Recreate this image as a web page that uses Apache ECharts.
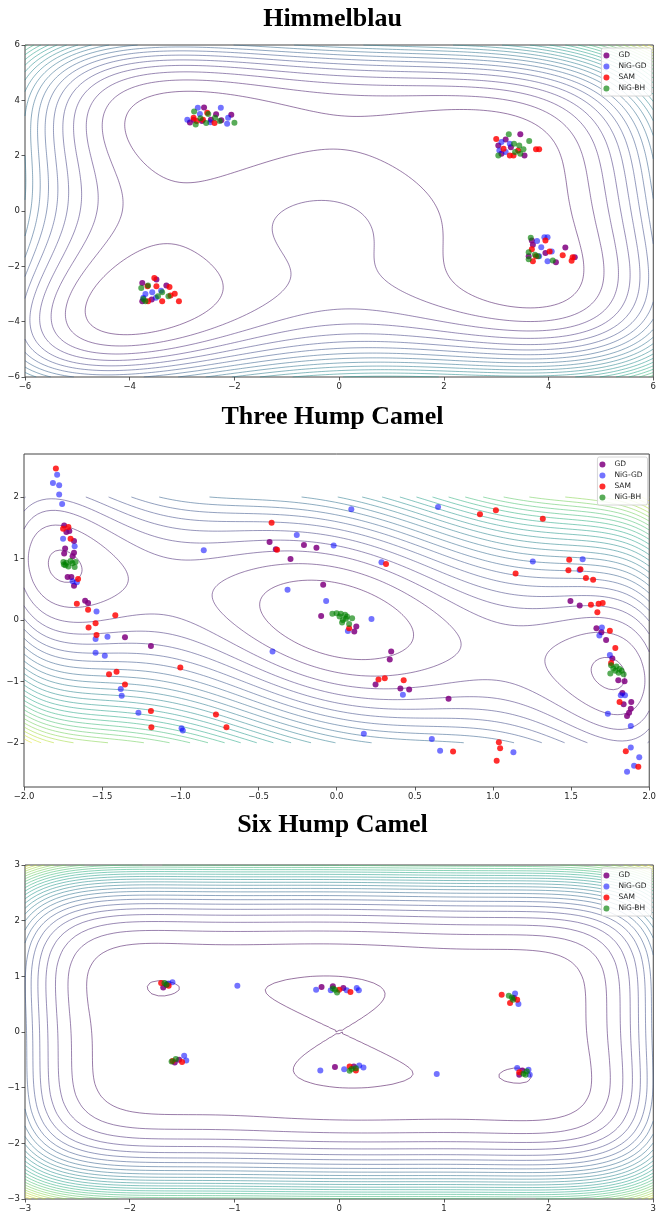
<!DOCTYPE html>
<html><head><meta charset="utf-8">
<script src="https://cdn.jsdelivr.net/npm/echarts@6/dist/echarts.min.js"></script>
<style>html,body{margin:0;padding:0;background:#fff}#c{width:659px;height:1214px}</style>
</head><body><div id="c"></div>
<script>
const seriesNames = ['GD', 'NiG-GD', 'SAM', 'NiG-BH'];
const titles = ['Himmelblau', 'Three Hump Camel', 'Six Hump Camel'];

// ---------- Himmelblau points ----------
const himGD = [[-2.58,3.74],[-2.06,3.48],[-2.35,3.50],[-2.78,3.30],[-2.62,3.25],[-2.45,3.30],[-2.25,3.28],[-2.85,3.20],
 [3.46,2.77],[3.18,2.58],[3.54,2.01],[3.04,2.37],[3.28,2.30],[3.10,2.07],
 [3.68,-1.07],[4.32,-1.32],[3.70,-1.22],[4.14,-1.85],[3.94,-1.52],[4.50,-1.67],[3.62,-1.64],
 [-3.76,-2.60],[-3.49,-2.48],[-3.30,-2.69],[-3.76,-3.26],[-3.58,-3.20]];
const himNG = [[-2.70,3.73],[-2.26,3.73],[-2.12,3.37],[-2.14,3.15],[-2.66,3.51],[-2.46,3.21],[-2.90,3.30],
 [3.10,2.49],[3.26,2.43],[3.06,2.19],[3.18,2.13],
 [3.92,-0.95],[3.98,-0.95],[3.78,-1.08],[3.86,-1.31],[4.06,-1.46],[3.82,-1.64],[3.98,-1.82],
 [-3.70,-3.00],[-3.57,-2.94],[-3.74,-3.14],[-3.50,-3.14],[-3.40,-2.88]];
const himSAM = [[-2.78,3.37],[-2.52,3.55],[-2.38,3.18],[-2.72,3.25],[-2.60,3.30],
 [3.00,2.60],[3.82,2.23],[3.76,2.23],[3.26,2.01],[3.14,2.25],[3.42,2.19],[3.33,2.01],
 [3.94,-1.07],[3.68,-1.38],[3.76,-1.64],[4.27,-1.60],[4.46,-1.67],[4.44,-1.80],[3.70,-1.82],[4.02,-1.46],
 [-3.53,-2.42],[-3.66,-2.72],[-3.49,-2.72],[-3.24,-2.75],[-3.14,-2.99],[-3.06,-3.26],[-3.38,-3.26],[-3.65,-3.26],[-3.22,-3.05]];
const himBH = [[-2.77,3.60],[-2.50,3.51],[-2.37,3.37],[-2.28,3.25],[-2.00,3.19],[-2.74,3.13],[-2.54,3.18],[-2.65,3.35],
 [3.24,2.77],[3.63,2.53],[3.52,2.23],[3.34,2.43],[3.44,2.37],[3.04,2.01],[3.36,2.13],[3.46,2.07],
 [3.66,-0.97],[3.62,-1.49],[3.62,-1.74],[3.80,-1.64],[4.08,-1.79],[3.74,-1.58],
 [-3.78,-2.78],[-3.65,-2.69],[-3.38,-2.94],[-3.26,-3.08],[-3.74,-3.18],[-3.70,-3.26],[-3.46,-3.08]];

// ---------- Three Hump Camel points ----------
const thGD = [[-1.743,1.538],[-1.729,1.43],[-1.71,1.446],[-1.68,1.282],[-1.737,1.162],[-1.743,1.08],[-1.68,1.091],[-1.689,1.037],
 [-1.721,0.698],[-1.697,0.698],[-1.68,0.556],[-1.609,0.311],[-1.59,0.273],[-1.354,-0.284],[-1.188,-0.426],
 [-0.429,1.266],[-0.389,1.151],[-0.209,1.217],[-0.129,1.173],[-0.295,0.993],
 [-0.086,0.573],[-0.099,0.065],[0.126,-0.109],[0.113,-0.191],
 [0.349,-0.513],[0.34,-0.644],[0.249,-1.053],[0.408,-1.118],[0.464,-1.135],[0.716,-1.282],
 [1.496,0.306],[1.555,0.235],
 [1.662,-0.136],[1.694,-0.202],[1.724,-0.327],[1.764,-0.627],[1.802,-0.982],[1.842,-0.998],[1.828,-1.189],
 [1.836,-1.375],[1.885,-1.337],[1.882,-1.446],[1.871,-1.511],[1.858,-1.566]];
const thNG = [[-1.788,2.362],[-1.815,2.226],[-1.775,2.193],[-1.775,2.04],[-1.756,1.888],[-1.75,1.32],[-1.676,1.2],
 [-1.689,0.627],[-1.662,0.611],[-1.536,0.136],[-1.542,-0.311],[-1.466,-0.273],[-1.542,-0.535],[-1.483,-0.584],
 [-1.381,-1.124],[-1.375,-1.233],[-1.268,-1.511],[-0.992,-1.762],[-0.984,-1.80],
 [-0.85,1.135],[-0.255,1.38],[-0.019,1.211],[0.094,1.80],[0.287,0.938],[0.649,1.838],[1.255,0.949],[1.574,0.987],[1.555,0.81],
 [-0.314,0.491],[-0.067,0.306],[0.223,0.016],[0.072,-0.18],
 [-0.41,-0.513],[0.424,-1.217],[0.174,-1.855],[0.609,-1.937],[0.662,-2.128],[1.131,-2.155],
 [1.697,-0.125],[1.681,-0.256],[1.748,-0.573],[1.818,-1.228],[1.845,-1.228],[1.735,-1.528],[1.882,-1.729],
 [1.882,-2.079],[1.936,-2.237],[1.903,-2.373],[1.858,-2.471]];
const thSAM = [[-1.796,2.466],[-1.75,1.484],[-1.716,1.511],[-1.702,1.32],[-1.654,0.666],[-1.662,0.262],[-1.59,0.164],
 [-1.416,0.076],[-1.542,-0.055],[-1.587,-0.125],[-1.536,-0.246],[-1.408,-0.846],[-1.456,-0.884],[-1.354,-1.053],
 [-1.0,-0.775],[-1.188,-1.484],[-1.185,-1.746],[-0.772,-1.538],[-0.705,-1.746],
 [-0.416,1.582],[-0.381,1.14],[0.316,0.911],[0.917,1.718],[1.019,1.784],[1.319,1.648],[1.145,0.753],[1.488,0.977],
 [1.483,0.807],[1.56,0.824],[1.595,0.682],[1.641,0.655],
 [1.627,0.245],[1.676,0.262],[1.702,0.273],[1.668,0.125],
 [0.08,-0.136],[0.268,-0.971],[0.308,-0.949],[0.429,-0.982],[0.745,-2.144],[1.038,-1.991],[1.046,-2.089],[1.024,-2.291],
 [1.748,-0.175],[1.783,-0.458],[1.81,-1.337],[1.85,-2.139],[1.93,-2.39],[1.756,-0.70]];
const thBH = [[-1.748,0.944],[-1.729,0.93],[-1.702,0.957],[-1.67,0.944],[-1.735,0.889],[-1.676,0.86],[-1.69,0.92],[-1.716,0.87],[-1.745,0.90],
 [-0.027,0.098],[0,0.109],[0.027,0.098],[0.054,0.082],[0.019,0.055],[0.04,0],[0.067,0.055],[0.099,0.027],[0.035,-0.044],[0.08,-0.065],[0.06,0.02],
 [1.756,-0.737],[1.77,-0.79],[1.783,-0.829],[1.804,-0.86],[1.823,-0.829],[1.836,-0.884],[1.751,-0.873],[1.79,-0.76],[1.81,-0.80]];

// ---------- Six Hump Camel points ----------
const shGD = [[-1.68,0.80],[-1.65,0.85],[-0.168,0.81],[-0.06,0.82],[0.04,0.79],[-0.04,-0.63],[0.14,-0.62],[1.67,0.61],[1.72,-0.767],[1.75,-0.69],[-1.528,-0.50],[-1.57,-0.55]];
const shNG = [[-1.592,0.893],[-1.63,0.87],[-0.972,0.833],[-0.22,0.76],[-0.08,0.75],[0.072,0.75],[0.168,0.79],[0.188,0.75],[1.68,0.69],[1.712,0.504],
 [-1.48,-0.426],[-1.46,-0.51],[-0.18,-0.69],[0.048,-0.67],[0.192,-0.60],[0.232,-0.636],[0.932,-0.755],[1.70,-0.647],[1.808,-0.677],[1.82,-0.767]];
const shSAM = [[-1.70,0.88],[-1.628,0.833],[0.108,0.72],[0.0,0.76],[1.552,0.671],[1.632,0.522],[1.70,0.58],[-1.50,-0.54],[-1.59,-0.52],[0.1,-0.62],[0.16,-0.69],[1.72,-0.725]];
const shBH = [[-1.668,0.88],[-1.648,0.85],[-0.04,0.76],[-0.02,0.71],[-0.06,0.78],[1.62,0.653],[1.66,0.58],[1.65,0.62],[-1.60,-0.528],[-1.56,-0.486],
 [0.12,-0.666],[0.16,-0.65],[0.1,-0.695],[1.76,-0.749],[1.792,-0.707],[1.78,-0.77]];

// ---------- contour levels ----------
const himLevels = [81,162,243,324,405,486,567,648,729,810,891,972,1053,1134,1215,1296,1377,1458,1539,1620,1701,1782,1863,1944,2025,2106,2187];
const thLevels = [0.365,0.73,1.095,1.46,1.825,2.19,2.555,2.92,3.285,3.65,4.015,4.38,4.745,5.11,5.475,5.84,6.205,6.57,6.935,7.3,7.665,8.03,8.395,8.76,9.125,9.49,9.855];
const shLevels = [0,15,30,45,60,75,90,105,120,135,150,165,180,195,210,225,240,255,270,285,300,315,330,345,360,375,390,405];

// tick labels
const xTicks = [[-6,-4,-2,0,2,4,6],[-2.0,-1.5,-1.0,-0.5,0.0,0.5,1.0,1.5,2.0],[-3,-2,-1,0,1,2,3]];
const yTicks = [[-6,-4,-2,0,2,4,6],[-2,-1,0,1,2],[-3,-2,-1,0,1,2,3]];

// objective functions (the surfaces whose contours are drawn)
const fHim = (x,y)=>Math.pow(x*x+y-11,2)+Math.pow(x+y*y-7,2);
const fTH = (x,y)=>2*x*x-1.05*Math.pow(x,4)+Math.pow(x,6)/6+x*y+y*y;
const fSH = (x,y)=>(4-2.1*x*x+Math.pow(x,4)/3)*x*x+x*y+(-4+4*y*y)*y*y;

const VIR = ['#440154','#482475','#414487','#355f8d','#2a788e','#21918c','#22a884','#44bf70','#7ad151','#bddf26','#fde725'];
function hex(h){return [parseInt(h.substr(1,2),16),parseInt(h.substr(3,2),16),parseInt(h.substr(5,2),16)];}
function viridis(t){ t=Math.max(0,Math.min(1,t)); const p=t*10, i=Math.min(9,Math.floor(p)), f=p-i;
  const a=hex(VIR[i]), b=hex(VIR[i+1]); return 'rgb('+a.map((v,k)=>Math.round(v+(b[k]-v)*f)).join(',')+')'; }

function buildContours(fn, xmin, xmax, ymin, ymax, n, levels, vmin, vmax){
  const xs=[], ys=[];
  for(let i=0;i<n;i++){xs.push(xmin+(xmax-xmin)*i/(n-1)); ys.push(ymin+(ymax-ymin)*i/(n-1));}
  const Z=new Float64Array(n*n);
  for(let j=0;j<n;j++) for(let i=0;i<n;i++) Z[j*n+i]=fn(xs[i],ys[j]);
  const H=n*n, out=[];
  for(const L of levels){
    const segs=[], pts=new Map(), adj=new Map();
    const pt=(eid)=>{ if(pts.has(eid)) return; let x,y;
      if(eid<H){ const j=Math.floor(eid/n), i=eid%n; const a=Z[j*n+i], b=Z[j*n+i+1]; const t=(L-a)/(b-a); x=xs[i]+t*(xs[i+1]-xs[i]); y=ys[j]; }
      else { const e=eid-H; const j=Math.floor(e/n), i=e%n; const a=Z[j*n+i], d=Z[(j+1)*n+i]; const t=(L-a)/(d-a); x=xs[i]; y=ys[j]+t*(ys[j+1]-ys[j]); }
      pts.set(eid,[x,y]); };
    const add=(e1,e2)=>{ const k=segs.length; segs.push([e1,e2]); pt(e1); pt(e2);
      if(!adj.has(e1)) adj.set(e1,[]); adj.get(e1).push(k);
      if(!adj.has(e2)) adj.set(e2,[]); adj.get(e2).push(k); };
    const T={1:[[3,0]],2:[[0,1]],3:[[3,1]],4:[[1,2]],6:[[0,2]],7:[[3,2]],8:[[2,3]],9:[[0,2]],11:[[1,2]],12:[[1,3]],13:[[0,1]],14:[[0,3]]};
    for(let j=0;j<n-1;j++) for(let i=0;i<n-1;i++){
      const a=Z[j*n+i], b=Z[j*n+i+1], c=Z[(j+1)*n+i+1], d=Z[(j+1)*n+i];
      const idx=(a>=L?1:0)|(b>=L?2:0)|(c>=L?4:0)|(d>=L?8:0);
      if(idx===0||idx===15) continue;
      const E=[j*n+i, H+j*n+i+1, (j+1)*n+i, H+j*n+i];
      let pairs;
      const cen=(a+b+c+d)/4>=L;
      if(idx===5) pairs=cen?[[0,1],[2,3]]:[[3,0],[1,2]];
      else if(idx===10) pairs=cen?[[3,0],[1,2]]:[[0,1],[2,3]];
      else pairs=T[idx];
      for(const p of pairs) add(E[p[0]],E[p[1]]);
    }
    const used=new Uint8Array(segs.length);
    const color=viridis((L-vmin)/(vmax-vmin));
    for(let s=0;s<segs.length;s++){
      if(used[s]) continue; used[s]=1;
      const chain=[segs[s][0],segs[s][1]];
      for(let pass=0;pass<2;pass++){
        let cur=chain[chain.length-1];
        while(true){
          const lst=adj.get(cur); let nx=-1;
          for(const t of lst){ if(!used[t]){nx=t;break;} }
          if(nx<0) break;
          used[nx]=1; const sg=segs[nx]; cur=(sg[0]===cur)?sg[1]:sg[0]; chain.push(cur);
        }
        chain.reverse();
      }
      out.push({coords:chain.map(e=>pts.get(e)), lineStyle:{color:color}});
    }
  }
  return out;
}

const contHim = buildContours(fHim,-6,6,-6,6,160,himLevels,0,2187);
const contTH = buildContours(fTH,-2,2,-2,2,140,thLevels,0,9.867);
const contSH = buildContours(fSH,-3,3,-3,3,100,shLevels,0,405);

const grids = [
  {left:25, top:45, width:630, height:332},
  {left:24, top:454, width:627, height:333},
  {left:25, top:865, width:630, height:334}
];
const xr = [[-6,6,2],[-2,2,0.5],[-3,3,1]];
const yr = [[-6,6,2],[-2.72,2.70,null],[-3,3,1]];
const minus = s=>String(s).replace('-','\u2212');
const labelStyle = {fontSize:8.5, fontFamily:'DejaVu Sans', color:'#222'};
const tickStyle = {show:true, inside:false, length:3.5, lineStyle:{color:'#333', width:0.8}};

const xAxis = grids.map((g,k)=>({
  type:'value', gridIndex:k, position:'bottom', min:xr[k][0], max:xr[k][1], interval:xr[k][2],
  axisLine:{show:false, onZero:false}, splitLine:{show:false},
  axisTick:Object.assign({}, tickStyle, {customValues:xTicks[k]}),
  axisLabel:Object.assign({}, labelStyle, {margin:5, customValues:xTicks[k],
    formatter:(v)=>minus(k===1?Number(v).toFixed(1):Math.round(v))})
}));
const yAxis = grids.map((g,k)=>{
  const o={type:'value', gridIndex:k, position:'left', min:yr[k][0], max:yr[k][1],
    axisLine:{show:false, onZero:false}, splitLine:{show:false},
    axisTick:Object.assign({}, tickStyle, {customValues:yTicks[k]}),
    axisLabel:Object.assign({}, labelStyle, {margin:5, customValues:yTicks[k],
      formatter:(v)=>minus(Math.round(v))})};
  if(yr[k][2]) o.interval=yr[k][2];
  return o;
});

const colors = {'GD':['#800080',0.85], 'NiG-GD':['#0000ff',0.55], 'SAM':['#ff0000',0.82], 'NiG-BH':['#008000',0.65]};
const pointSets = [[himGD,himNG,himSAM,himBH],[thGD,thNG,thSAM,thBH],[shGD,shNG,shSAM,shBH]];
const contours = [contHim, contTH, contSH];

const series = [];
contours.forEach((c,k)=>{
  series.push({type:'lines', coordinateSystem:'cartesian2d', xAxisIndex:k, yAxisIndex:k, polyline:true,
    data:c, silent:true, z:1, lineStyle:{width:1, opacity:0.55}, animation:false});
});
pointSets.forEach((sets,k)=>{
  sets.forEach((d,i)=>{
    const nm=seriesNames[i];
    series.push({type:'scatter', name:nm, xAxisIndex:k, yAxisIndex:k, data:d, symbolSize:6, z:3,
      itemStyle:{color:colors[nm][0], opacity:colors[nm][1]}, animation:false});
  });
});

const legend = grids.map((g,k)=>({
  data:seriesNames, orient:'vertical', right:659-(g.left+g.width)+3.5, top:g.top+3,
  icon:'circle', itemWidth:14, itemHeight:6, itemGap:2, padding:[3,5,3,2],
  backgroundColor:'rgba(255,255,255,0.85)', borderColor:'#d6d6d6', borderWidth:1, borderRadius:2,
  textStyle:{fontSize:7.5, fontFamily:'DejaVu Sans', color:'#222', lineHeight:9}
}));

const titleY = [19, 417, 825.5];
const graphic = titles.map((t,k)=>({type:'text', x:332.5, y:titleY[k], silent:true,
  style:{text:t, fontSize:26, fontWeight:'bold', fontFamily:'"Liberation Serif", "Times New Roman", serif',
    fill:'#000', align:'center', verticalAlign:'middle', textAlign:'center', textVerticalAlign:'middle'}}));

const chart = echarts.init(document.getElementById('c'), null, {renderer:'canvas', width:659, height:1214});
chart.setOption({
  animation:false, backgroundColor:'#fff',
  grid:grids.map(g=>Object.assign({show:true, borderColor:'#444', borderWidth:1, backgroundColor:'transparent'}, g)),
  xAxis, yAxis, series, legend, graphic
});
</script></body></html>
